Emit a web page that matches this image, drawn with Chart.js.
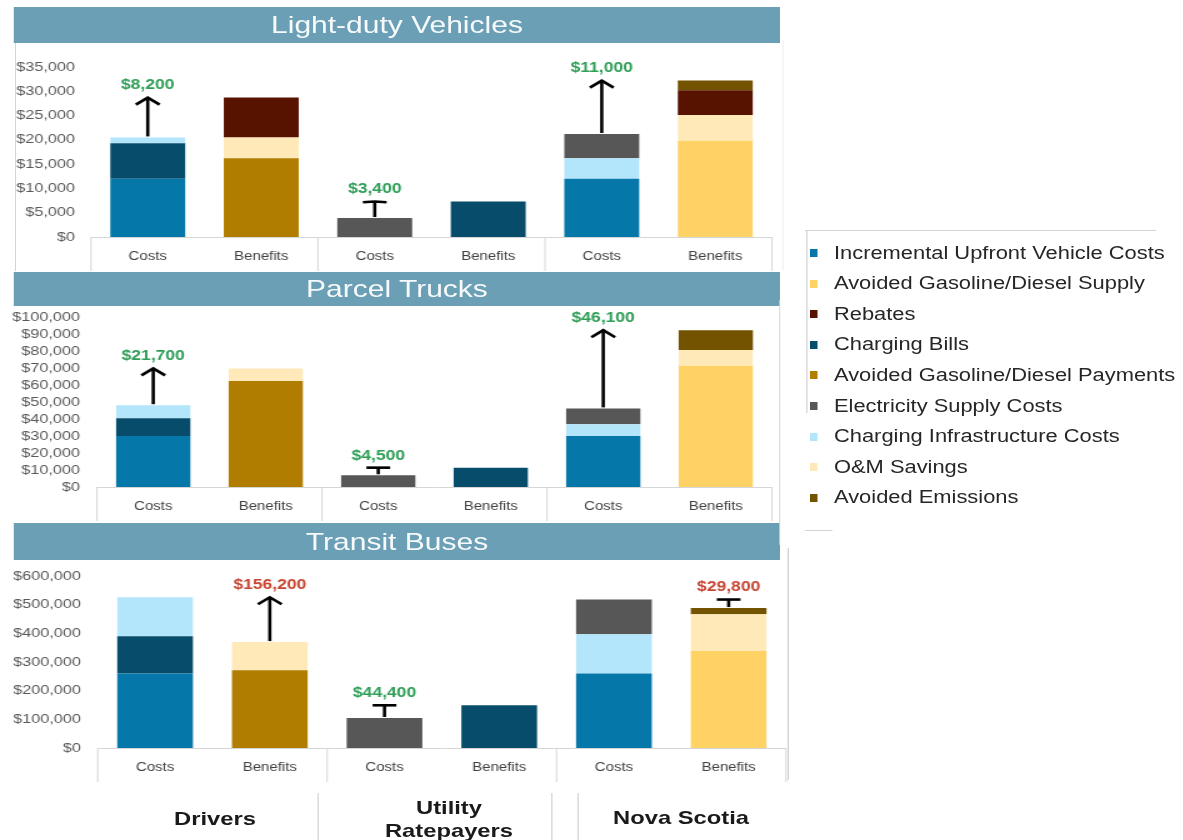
<!DOCTYPE html>
<html>
<head>
<meta charset="utf-8">
<script src="https://cdn.jsdelivr.net/npm/chart.js@4.4.1/dist/chart.umd.min.js"></script>
<style>
html,body{margin:0;padding:0;background:#fff;width:1183px;height:840px;overflow:hidden;}
#wrap{position:absolute;left:0;top:0;width:946.4px;height:840px;transform:scaleX(1.25);transform-origin:0 0;font-family:"Liberation Sans",Arial,sans-serif;}
.hdr{position:absolute;left:11.2px;width:612.8px;background:#6b9fb5;color:#f7fafb;font-size:24px;display:flex;align-items:center;justify-content:center;}
canvas{position:absolute;left:0;}
.ln{position:absolute;background:#d4d4d4;}
.lg{position:absolute;left:648px;height:20px;display:flex;align-items:center;font-size:17.5px;color:#262626;white-space:nowrap;}
.lg i{display:inline-block;width:6.4px;height:8px;margin-right:12.8px;}
.bl{position:absolute;font-weight:bold;font-size:19px;color:#1a1a1a;text-align:center;width:200px;line-height:23px;}
</style>
</head>
<body>
<div id="wrap">
  <div class="hdr" style="top:7px;height:36px;">Light-duty Vehicles</div>
  <div class="hdr" style="top:272px;height:34px;">Parcel Trucks</div>
  <div class="hdr" style="top:523px;height:37px;">Transit Buses</div>
  <canvas id="c1" width="632" height="229" style="top:43px"></canvas>
  <canvas id="c2" width="632" height="216" style="top:306px"></canvas>
  <canvas id="c3" width="632" height="223" style="top:560px"></canvas>
  <div class="ln" style="left:12.4px;top:43px;width:1px;height:228px;"></div>
  <div class="ln" style="left:623px;top:300px;width:1px;height:245px;"></div>
  <div class="ln" style="left:630px;top:548px;width:1px;height:232px;"></div>
  <div class="ln" style="left:625.5px;top:40px;width:1px;height:230px;background:#f0f0f0"></div>
  <div class="ln" style="left:644px;top:230px;width:280.8px;height:1px;"></div>
  <div class="ln" style="left:644.8px;top:230px;width:1px;height:183px;"></div>
  <div class="ln" style="left:644px;top:530px;width:22.4px;height:1px;"></div>
  <div class="ln" style="left:253.6px;top:793px;width:1px;height:47px;"></div>
  <div class="ln" style="left:440.6px;top:793px;width:1px;height:47px;"></div>
  <div class="ln" style="left:461.8px;top:793px;width:1px;height:47px;"></div>
  <div id="legend"></div>
  <div id="bottom"></div>
</div>
<script>
// ---------- data ----------
const categories = ['Costs', 'Benefits', 'Costs', 'Benefits', 'Costs', 'Benefits'];
const groupLabels = ['Drivers', 'Utility\nRatepayers', 'Nova Scotia'];

const legendLabels = ['Incremental Upfront Vehicle Costs', 'Avoided Gasoline/Diesel Supply', 'Rebates',
  'Charging Bills', 'Avoided Gasoline/Diesel Payments', 'Electricity Supply Costs',
  'Charging Infrastructure Costs', 'O&M Savings', 'Avoided Emissions'];
const legendColors = ['#0677a9', '#ffd266', '#581200', '#074d6b', '#b07d00', '#575757', '#b3e5fb', '#ffe9b8', '#735200'];

// Light-duty Vehicles
const ldvUpfront      = [12000, null, null, null, 12000, null];
const ldvGasSupply    = [null, null, null, null, null, 19800];
const ldvGasPayments  = [null, 16200, null, null, null, null];
const ldvChargingBills= [7300, null, null, 7300, null, null];
const ldvInfra        = [1200, null, null, null, 4200, null];
const ldvElecSupply   = [null, null, 3900, null, 5000, null];
const ldvOM           = [null, 4300, null, null, null, 5300];
const ldvRebates      = [null, 8200, null, null, null, 5100];
const ldvEmissions    = [null, null, null, null, null, 2000];
const ldvGaps         = [8200, 3400, 11000];

// Parcel Trucks
const ptUpfront       = [30000, null, null, null, 30000, null];
const ptGasSupply     = [null, null, null, null, null, 71400];
const ptGasPayments   = [null, 62400, null, null, null, null];
const ptChargingBills = [10500, null, null, 11400, null, null];
const ptInfra         = [7700, null, null, null, 7000, null];
const ptElecSupply    = [null, null, 6900, null, 9300, null];
const ptOM            = [null, 7500, null, null, null, 9300];
const ptRebates       = [null, null, null, null, null, null];
const ptEmissions     = [null, null, null, null, null, 11700];
const ptGaps          = [21700, 4500, 46100];

// Transit Buses
const tbUpfront       = [260000, null, null, null, 260000, null];
const tbGasSupply     = [null, null, null, null, null, 338000];
const tbGasPayments   = [null, 271600, null, null, null, null];
const tbChargingBills = [129500, null, null, 149000, null, null];
const tbInfra         = [136200, null, null, null, 136400, null];
const tbElecSupply    = [null, null, 104600, null, 121500, null];
const tbOM            = [null, 97900, null, null, null, 128300];
const tbRebates       = [null, null, null, null, null, null];
const tbEmissions     = [null, null, null, null, null, 21800];
const tbGaps          = [156200, 44400, 29800];

// ---------- helpers ----------
const FONT = '"Liberation Sans", Arial, sans-serif';
const fmt = v => '$' + Number(v).toLocaleString('en-US');
const colorOf = name => legendColors[legendLabels.indexOf(name)];

// stacking order bottom -> top
function buildDatasets(up, sup, pay, bills, infra, elec, om, reb, em) {
  const s = [
    ['Incremental Upfront Vehicle Costs', up],
    ['Avoided Gasoline/Diesel Supply', sup],
    ['Avoided Gasoline/Diesel Payments', pay],
    ['Charging Bills', bills],
    ['Charging Infrastructure Costs', infra],
    ['Electricity Supply Costs', elec],
    ['O&M Savings', om],
    ['Rebates', reb],
    ['Avoided Emissions', em]
  ];
  return s.map(([label, data]) => ({label, data, backgroundColor: colorOf(label), borderWidth: 0}));
}

const stripPlugin = {
  id: 'strip',
  afterDraw(chart) {
    const {ctx, chartArea} = chart;
    const x = chart.scales.x;
    const b = chartArea.bottom;
    ctx.save();
    ctx.strokeStyle = '#d6d6d6';
    ctx.lineWidth = 1;
    ctx.beginPath();
    ctx.moveTo(chartArea.left, b + 0.5);
    ctx.lineTo(chartArea.right, b + 0.5);
    const xs = [chartArea.left,
      (x.getPixelForValue(1) + x.getPixelForValue(2)) / 2,
      (x.getPixelForValue(3) + x.getPixelForValue(4)) / 2,
      chartArea.right];
    xs.forEach(px => { ctx.moveTo(px, b); ctx.lineTo(px, b + 34); });
    ctx.stroke();
    ctx.restore();
  }
};

const arrowPlugin = {
  id: 'arrows',
  afterDatasetsDraw(chart, args, opts) {
    const {ctx} = chart;
    const xs = chart.scales.x, ys = chart.scales.y;
    const ds = chart.data.datasets;
    const total = i => ds.reduce((a, d) => a + (d.data[i] || 0), 0);
    ctx.save();
    for (let g = 0; g < 3; g++) {
      const ci = 2 * g, bi = 2 * g + 1;
      const ct = total(ci), bt = total(bi);
      const low = ct < bt ? ci : bi;
      const lowT = Math.min(ct, bt), highT = Math.max(ct, bt);
      const px = xs.getPixelForValue(low);
      const y0 = ys.getPixelForValue(lowT) - 1;
      const y1 = ys.getPixelForValue(highT);
      const len = y0 - y1;
      const h = Math.max(0, Math.min(7, (len - 14) * 0.5));
      ctx.strokeStyle = '#000';
      ctx.lineWidth = 2.6;
      ctx.lineCap = 'butt';
      ctx.beginPath();
      ctx.moveTo(px, y0);
      ctx.lineTo(px, y1);
      ctx.stroke();
      ctx.beginPath();
      ctx.moveTo(px - 9.5, y1 + h);
      ctx.lineTo(px, y1);
      ctx.lineTo(px + 9.5, y1 + h);
      ctx.stroke();
      ctx.fillStyle = bt > ct ? '#2f9e57' : '#c64532';
      ctx.font = 'bold 14px ' + FONT;
      ctx.textAlign = 'center';
      ctx.textBaseline = 'middle';
      ctx.fillText(fmt(opts.gaps[g]), px, y1 - 12);
    }
    ctx.restore();
  }
};

function makeChart(id, datasets, gaps, max, step, yWidth, yPad, padTop, padRight) {
  return new Chart(document.getElementById(id), {
    type: 'bar',
    data: {labels: categories, datasets},
    options: {
      responsive: false,
      animation: false,
      devicePixelRatio: 1,
      layout: {padding: {top: padTop, right: padRight, bottom: 0, left: 0}},
      datasets: {bar: {categoryPercentage: 1, barPercentage: 0.66}},
      plugins: {legend: {display: false}, tooltip: {enabled: false}, arrows: {gaps}},
      scales: {
        x: {
          stacked: true,
          grid: {display: false, drawTicks: false},
          border: {display: false},
          ticks: {font: {family: FONT, size: 12}, color: '#404040', padding: 12, maxRotation: 0, autoSkip: false},
          afterFit(s) { s.height = 35; s.paddingLeft = 0; s.paddingRight = 0; }
        },
        y: {
          stacked: true, min: 0, max,
          grid: {display: false, drawTicks: false},
          border: {display: false},
          ticks: {stepSize: step, autoSkip: false, padding: yPad, font: {family: FONT, size: 13}, color: '#595959', callback: v => fmt(v)},
          afterFit(s) { s.width = yWidth; s.paddingTop = 0; s.paddingBottom = 0; }
        }
      }
    },
    plugins: [stripPlugin, arrowPlugin]
  });
}

makeChart('c1', buildDatasets(ldvUpfront, ldvGasSupply, ldvGasPayments, ldvChargingBills, ldvInfra, ldvElecSupply, ldvOM, ldvRebates, ldvEmissions),
  ldvGaps, 35000, 5000, 72.8, 12.8, 24, 14.4);
makeChart('c2', buildDatasets(ptUpfront, ptGasSupply, ptGasPayments, ptChargingBills, ptInfra, ptElecSupply, ptOM, ptRebates, ptEmissions),
  ptGaps, 100000, 10000, 77.6, 13.6, 11.3, 14.4);
makeChart('c3', buildDatasets(tbUpfront, tbGasSupply, tbGasPayments, tbChargingBills, tbInfra, tbElecSupply, tbOM, tbRebates, tbEmissions),
  tbGaps, 600000, 100000, 78.2, 13.4, 16, 3.2);

// legend
const lg = document.getElementById('legend');
legendLabels.forEach((t, i) => {
  const d = document.createElement('div');
  d.className = 'lg';
  d.style.top = (243 + i * 30.6) + 'px';
  const m = document.createElement('i');
  m.style.background = legendColors[i];
  d.appendChild(m);
  d.appendChild(document.createTextNode(t));
  lg.appendChild(d);
});

// bottom group labels
const bt = document.getElementById('bottom');
const bx = [172, 359.2, 544.8];
const byC = [818, 818, 817];
groupLabels.forEach((t, i) => {
  const lines = t.split('\n');
  const d = document.createElement('div');
  d.className = 'bl';
  d.style.left = (bx[i] - 100) + 'px';
  d.style.top = (byC[i] - lines.length * 23 / 2 + (lines.length > 1 ? 0.5 : 0)) + 'px';
  d.innerHTML = lines.join('<br>');
  bt.appendChild(d);
});
</script>
</body>
</html>
